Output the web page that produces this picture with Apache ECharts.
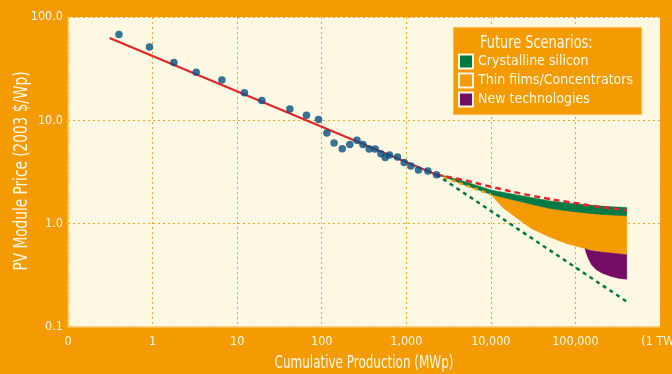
<!DOCTYPE html>
<html>
<head>
<meta charset="utf-8">
<script src="https://cdn.jsdelivr.net/npm/echarts@6/dist/echarts.min.js"></script>
<style>
html,body{margin:0;padding:0;background:#F39B00;}
#chart{width:672px;height:374px;}
</style>
</head>
<body>
<div id="chart"></div>
<script>
// ---- data ----
const xTickLabels = ['0','1','10','100','1,000','10,000','100,000','(1 TW)'];
const yTickLabels = ['0.1','1.0','10.0','100.0'];
const xTitle = 'Cumulative Production (MWp)';
const yTitle = 'PV Module Price (2003 $/Wp)';
const legendTitle = 'Future Scenarios:';

const histX = [0.40, 0.92, 1.79, 3.28, 6.6, 12.2, 19.6, 42, 66, 91.6, 115, 140, 175, 215, 261, 307, 364, 429, 501, 563, 633, 787, 944, 1132, 1393, 1800, 2275];
const histY = [67.6, 51.3, 36.2, 29.2, 24.5, 18.5, 15.6, 12.9, 11.2, 10.2, 7.53, 6.03, 5.32, 5.82, 6.41, 5.82, 5.28, 5.28, 4.76, 4.36, 4.62, 4.41, 3.90, 3.61, 3.30, 3.23, 2.98];

const trendX = [0.31, 2275];
const trendY = [62.7, 2.98];

const redDashX = [2275, 5000, 10000, 30000, 95000, 200000, 405000];
const redDashY = [2.98, 2.62, 2.28, 1.87, 1.59, 1.45, 1.35];

const greenDashX = [2275, 405000];
const greenDashY = [2.98, 0.176];

const orangeDashX = [2275, 10000];
const orangeDashY = [2.98, 1.92];

const siliconX = [2275, 2760, 5000, 10000, 20000, 30000, 50000, 100000, 200000, 405000];
const siliconTop = [2.98, 2.92, 2.55, 2.12, 1.90, 1.79, 1.66, 1.56, 1.48, 1.43];
const siliconBottom = [2.98, 2.85, 2.35, 1.92, 1.67, 1.54, 1.40, 1.30, 1.23, 1.19];

const thinX = [10000, 14000, 22000, 30000, 50000, 80000, 130000, 200000, 300000, 405000];
const thinTop = [1.92, 1.80, 1.62, 1.54, 1.40, 1.33, 1.28, 1.23, 1.21, 1.19];
const thinBottom = [1.92, 1.42, 1.08, 0.90, 0.74, 0.64, 0.575, 0.535, 0.51, 0.50];

const newX = [130000, 134000, 142000, 155000, 175000, 210000, 260000, 330000, 405000];
const newTop = [0.575, 0.57, 0.56, 0.55, 0.54, 0.53, 0.52, 0.51, 0.50];
const newBottom = [0.575, 0.52, 0.46, 0.40, 0.36, 0.33, 0.31, 0.295, 0.29];

const legendNames = ['Crystalline silicon', 'Thin films/Concentrators', 'New technologies'];

// ---- styling ----
const BG = '#F39B00';
const CREAM = '#FFF8E2';
const TXT = '#FFF8E6';
const FONT = '"DejaVu Sans Condensed", "DejaVu Sans", sans-serif';
const GREEN = '#007A45';
const ORANGE = '#F39B00';
const PURPLE = '#740C66';
const RED = '#E0262B';
const BLUE = '#064F83';

function zip(xs, ys){ return xs.map((x,i)=>[x, ys[i]]); }

function bandSeries(name, xs, top, bottom, color){
  return {
    name: name,
    type: 'custom',
    silent: true,
    z: 2,
    itemStyle: {color: color},
    data: [[xs[0], top[0]]],
    renderItem: function(params, api){
      const pts = [];
      for (let i=0;i<xs.length;i++) pts.push(api.coord([xs[i], top[i]]));
      for (let i=xs.length-1;i>=0;i--) pts.push(api.coord([xs[i], bottom[i]]));
      return {type:'polygon', shape:{points: pts}, style:{fill: color, stroke: color, lineWidth: 0.5}};
    }
  };
}

const chart = echarts.init(document.getElementById('chart'), null, {renderer:'canvas'});
chart.setOption({
  backgroundColor: BG,
  animation: false,
  textStyle: {fontFamily: FONT},
  grid: {left: 68, right: 12, top: 17, bottom: 47, show: true, backgroundColor: CREAM, borderWidth: 0,
         containLabel: false, outerBoundsMode: 'none'},
  xAxis: {
    type: 'log', logBase: 10, min: 0.1, max: 1000000,
    axisLine: {show: true, lineStyle: {color: '#F8C25A', width: 1.5}},
    axisTick: {show: false},
    minorTick: {show: false},
    axisLabel: {color: TXT, fontSize: 12.5, fontFamily: FONT, margin: 8,
      formatter: v => xTickLabels[Math.round(Math.log10(v)) + 1] || ''},
    splitLine: {show: true, lineStyle: {color: '#F5A623', type: [2,3], width: 1}}
  },
  yAxis: {
    type: 'log', logBase: 10, min: 0.1, max: 100,
    axisLine: {show: true, lineStyle: {color: '#F8C25A', width: 1.5}},
    axisTick: {show: false},
    minorTick: {show: false},
    axisLabel: {color: TXT, fontSize: 12.5, fontFamily: FONT, margin: 5,
      formatter: v => yTickLabels[Math.round(Math.log10(v)) + 1] || ''},
    splitLine: {show: true, lineStyle: {color: '#F5A623', type: [2,3], width: 1}}
  },
  legend: {
    orient: 'vertical', left: 453, top: 48, z: 6,
    itemWidth: 14, itemHeight: 14, itemGap: 2, icon: 'rect',
    textStyle: {color: TXT, fontSize: 14, fontFamily: FONT, lineHeight: 17},
    data: [
      {name: legendNames[0], itemStyle: {color: GREEN, borderColor: TXT, borderWidth: 2}},
      {name: legendNames[1], itemStyle: {color: ORANGE, borderColor: TXT, borderWidth: 2}},
      {name: legendNames[2], itemStyle: {color: PURPLE, borderColor: TXT, borderWidth: 2}}
    ],
    selectedMode: false
  },
  graphic: [
    {type:'rect', z: 5, shape:{x:453, y:27, width:189, height:88}, style:{fill: BG, stroke:'#FFE9B8', lineWidth:1}},
    {type:'text', z: 7, x: 480, y: 43, scaleX: 0.8,
      style:{text: legendTitle, fill: TXT, fontSize: 18, fontFamily: FONT, verticalAlign:'middle', align:'left'}},
    {type:'text', z: 7, x: 364, y: 363, scaleX: 0.74,
      style:{text: xTitle, fill: TXT, fontSize: 18, fontFamily: FONT, verticalAlign:'middle', align:'center'}},
    {type:'text', z: 7, x: 22, y: 171, rotation: Math.PI/2, scaleX: 0.8,
      style:{text: yTitle, fill: TXT, fontSize: 19, fontFamily: FONT, verticalAlign:'middle', align:'center'}}
  ],
  series: [
    bandSeries(legendNames[1], thinX, thinTop, thinBottom, ORANGE),
    bandSeries(legendNames[2], newX, newTop, newBottom, PURPLE),
    bandSeries(legendNames[0], siliconX, siliconTop, siliconBottom, GREEN),
    {type:'line', data: zip(orangeDashX, orangeDashY), symbol:'none', silent:true, z:3,
      lineStyle:{color: ORANGE, width: 2.5, type:[4,4]}},
    {type:'line', data: zip(greenDashX, greenDashY), symbol:'none', silent:true, z:3,
      lineStyle:{color: GREEN, width: 2.5, type:[4,4]}},
    {type:'line', data: zip(redDashX, redDashY), symbol:'none', smooth: true, silent:true, z:4,
      lineStyle:{color: RED, width: 2.5, type:[6,4]}},
    {type:'line', data: zip(trendX, trendY), symbol:'none', silent:true, z:3,
      lineStyle:{color: RED, width: 2.2}},
    {type:'scatter', data: zip(histX, histY), symbolSize: 7.5, silent:true, z:5,
      itemStyle:{color: BLUE}}
  ]
});
</script>
</body>
</html>
